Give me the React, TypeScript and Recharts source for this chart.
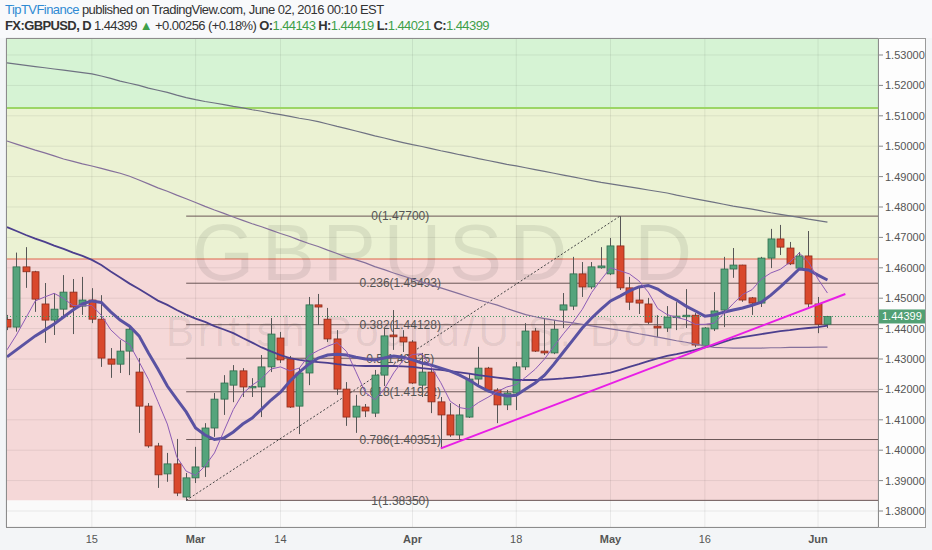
import React from 'react'
import {
  ComposedChart, Bar, Line, XAxis, YAxis, CartesianGrid,
  ReferenceArea, ReferenceLine, ReferenceDot, Customized,
} from 'recharts'

// GBPUSD daily, 2 Feb – 2 Jun 2016
const opens = [
  1.4430, 1.4405, 1.4603, 1.4587, 1.4481, 1.4428, 1.4464, 1.4520, 1.4474, 1.4494,
  1.4431, 1.4300, 1.4283, 1.4326, 1.4257, 1.4145, 1.4014, 1.3922, 1.3955, 1.3846,
  1.3909, 1.3945, 1.4073, 1.4168, 1.4214, 1.4261, 1.4205, 1.4208, 1.4274, 1.4369,
  1.4300, 1.4145, 1.4254, 1.4478, 1.4431, 1.4366, 1.4201, 1.4109, 1.4142, 1.4122,
  1.4247, 1.4379, 1.4372, 1.4356, 1.4214, 1.4257, 1.4159, 1.4116, 1.4050, 1.4109,
  1.4234, 1.4270, 1.4198, 1.4149, 1.4188, 1.4274, 1.4392, 1.4326, 1.4320, 1.4461,
  1.4474, 1.4580, 1.4537, 1.4600, 1.4580, 1.4672, 1.4534, 1.4494, 1.4481, 1.4408,
  1.4402, 1.4438, 1.4441, 1.4444, 1.4343, 1.4399, 1.4461, 1.4596, 1.4609, 1.4501,
  1.4484, 1.4632, 1.4695, 1.4665, 1.4599, 1.4639, 1.4481, 1.44143,
]
const highs = [
  1.4445, 1.4650, 1.4668, 1.4590, 1.4550, 1.4517, 1.4576, 1.4563, 1.4570, 1.4533,
  1.4510, 1.4336, 1.4362, 1.4405, 1.4303, 1.4155, 1.4024, 1.3991, 1.4037, 1.3925,
  1.4011, 1.4089, 1.4188, 1.4247, 1.4280, 1.4270, 1.4237, 1.4313, 1.4435, 1.4389,
  1.4310, 1.4270, 1.4504, 1.4514, 1.4468, 1.4395, 1.4224, 1.4182, 1.4152, 1.4264,
  1.4402, 1.4461, 1.4395, 1.4362, 1.4320, 1.4270, 1.4175, 1.4155, 1.4152, 1.4254,
  1.4340, 1.4274, 1.4204, 1.4198, 1.4290, 1.4418, 1.4402, 1.4435, 1.4428, 1.4517,
  1.4636, 1.4619, 1.4619, 1.4668, 1.4698, 1.4770, 1.4570, 1.4540, 1.4501, 1.4444,
  1.4474, 1.4487, 1.4530, 1.4451, 1.4405, 1.4520, 1.4636, 1.4665, 1.4610, 1.4504,
  1.4636, 1.4728, 1.4741, 1.4685, 1.4652, 1.4721, 1.4504, 1.44419,
]
const lows = [
  1.4395, 1.4390, 1.4534, 1.4455, 1.4353, 1.4379, 1.4435, 1.4382, 1.4445, 1.4418,
  1.4274, 1.4238, 1.4254, 1.4247, 1.4057, 1.4008, 1.3876, 1.3896, 1.3849, 1.3835,
  1.3892, 1.3912, 1.4044, 1.4116, 1.4158, 1.4175, 1.4175, 1.4109, 1.4257, 1.4287,
  1.4139, 1.4053, 1.4214, 1.4412, 1.4356, 1.4182, 1.4080, 1.4057, 1.4109, 1.4109,
  1.4211, 1.4330, 1.4323, 1.4218, 1.4175, 1.4122, 1.4007, 1.4044, 1.4034, 1.4106,
  1.4208, 1.4191, 1.4089, 1.4132, 1.4132, 1.4264, 1.4323, 1.4313, 1.4316, 1.4402,
  1.4461, 1.4504, 1.4530, 1.4597, 1.4576, 1.4527, 1.4461, 1.4448, 1.4415, 1.4372,
  1.4389, 1.4395, 1.4402, 1.4339, 1.4339, 1.4392, 1.4405, 1.4567, 1.4488, 1.4445,
  1.4471, 1.4599, 1.4642, 1.4609, 1.4593, 1.4471, 1.4385, 1.44021,
]
const closes = [
  1.4405, 1.4603, 1.4587, 1.4497, 1.4428, 1.4464, 1.4520, 1.4471, 1.4494, 1.4431,
  1.4303, 1.4283, 1.4326, 1.4398, 1.4145, 1.4014, 1.3919, 1.3955, 1.3859, 1.3909,
  1.3945, 1.4073, 1.4168, 1.4221, 1.4261, 1.4208, 1.4210, 1.4274, 1.4382, 1.4297,
  1.4142, 1.4254, 1.4478, 1.4471, 1.4366, 1.4201, 1.4109, 1.4145, 1.4129, 1.4247,
  1.4376, 1.4373, 1.4356, 1.4221, 1.4257, 1.4159, 1.4116, 1.4050, 1.4116, 1.4234,
  1.4270, 1.4198, 1.4149, 1.4188, 1.4274, 1.4392, 1.4326, 1.4320, 1.4398, 1.4478,
  1.4580, 1.4537, 1.4603, 1.4606, 1.4672, 1.4534, 1.4487, 1.4484, 1.4421, 1.4402,
  1.4438, 1.4441, 1.4444, 1.4346, 1.4402, 1.4458, 1.4596, 1.4609, 1.4494, 1.4484,
  1.4632, 1.4695, 1.4668, 1.4613, 1.4639, 1.4481, 1.44143, 1.44399,
]

// moving averages
const ma5 = [
  1.4330, 1.4379, 1.4435, 1.4491, 1.4504, 1.4516, 1.4499, 1.4476, 1.4475, 1.4476,
  1.4444, 1.4396, 1.4367, 1.4348, 1.4291, 1.4233, 1.4160, 1.4086, 1.3978, 1.3931,
  1.3917, 1.3948, 1.3991, 1.4063, 1.4134, 1.4186, 1.4214, 1.4235, 1.4267, 1.4274,
  1.4261, 1.4270, 1.4311, 1.4328, 1.4342, 1.4354, 1.4325, 1.4258, 1.4190, 1.4166,
  1.4201, 1.4254, 1.4296, 1.4315, 1.4317, 1.4273, 1.4222, 1.4161, 1.4140, 1.4135,
  1.4157, 1.4174, 1.4193, 1.4208, 1.4216, 1.4240, 1.4266, 1.4300, 1.4342, 1.4383,
  1.4420, 1.4463, 1.4519, 1.4561, 1.4600, 1.4590, 1.4580, 1.4557, 1.4520, 1.4466,
  1.4446, 1.4437, 1.4429, 1.4414, 1.4414, 1.4418, 1.4449, 1.4482, 1.4512, 1.4528,
  1.4563, 1.4583, 1.4595, 1.4618, 1.4649, 1.4619, 1.4563, 1.4517,
]
const ma10 = [
  1.4307, 1.4330, 1.4353, 1.4376, 1.4395, 1.4415, 1.4438, 1.4461, 1.4481, 1.4491,
  1.4486, 1.4455, 1.4428, 1.4408, 1.4376, 1.4320, 1.4267, 1.4211, 1.4168, 1.4126,
  1.4073, 1.4050, 1.4035, 1.4040, 1.4060, 1.4086, 1.4106, 1.4135, 1.4165, 1.4191,
  1.4227, 1.4257, 1.4283, 1.4303, 1.4313, 1.4316, 1.4313, 1.4306, 1.4300, 1.4297,
  1.4303, 1.4310, 1.4306, 1.4297, 1.4287, 1.4280, 1.4270, 1.4260, 1.4247, 1.4231,
  1.4211, 1.4195, 1.4185, 1.4178, 1.4181, 1.4201, 1.4221, 1.4247, 1.4283, 1.4323,
  1.4362, 1.4402, 1.4435, 1.4464, 1.4491, 1.4507, 1.4524, 1.4537, 1.4542, 1.4530,
  1.4510, 1.4494, 1.4474, 1.4458, 1.4441, 1.4445, 1.4454, 1.4461, 1.4468, 1.4477,
  1.4487, 1.4510, 1.4537, 1.4566, 1.4596, 1.4593, 1.4576, 1.4560,
]
const ma50 = [
  1.4734, 1.4721, 1.4708, 1.4696, 1.4685, 1.4673, 1.4662, 1.4650, 1.4639, 1.4626,
  1.4609, 1.4588, 1.4568, 1.4548, 1.4530, 1.4511, 1.4492, 1.4478, 1.4461, 1.4446,
  1.4433, 1.4422, 1.4408, 1.4397, 1.4385, 1.4369, 1.4354, 1.4338, 1.4325, 1.4313,
  1.4303, 1.4297, 1.4293, 1.4290, 1.4287, 1.4283, 1.4280, 1.4278, 1.4277, 1.4277,
  1.4277, 1.4277, 1.4276, 1.4274, 1.4270, 1.4267, 1.4264, 1.4260, 1.4256, 1.4252,
  1.4247, 1.4243, 1.4239, 1.4235, 1.4231, 1.4231, 1.4231, 1.4232, 1.4234, 1.4236,
  1.4239, 1.4242, 1.4246, 1.4250, 1.4255, 1.4264, 1.4274, 1.4283, 1.4293, 1.4302,
  1.4310, 1.4316, 1.4323, 1.4330, 1.4338, 1.4346, 1.4356, 1.4366, 1.4372, 1.4377,
  1.4382, 1.4387, 1.4392, 1.4395, 1.4399, 1.4402, 1.4405, 1.4410,
]
const ma100 = [
  1.5017, 1.5007, 1.4997, 1.4987, 1.4978, 1.4968, 1.4958, 1.4950, 1.4942, 1.4935,
  1.4927, 1.4919, 1.4911, 1.4901, 1.4889, 1.4876, 1.4863, 1.4852, 1.4839, 1.4827,
  1.4815, 1.4802, 1.4790, 1.4779, 1.4767, 1.4756, 1.4745, 1.4735, 1.4724, 1.4713,
  1.4703, 1.4691, 1.4680, 1.4670, 1.4658, 1.4647, 1.4635, 1.4626, 1.4616, 1.4604,
  1.4594, 1.4583, 1.4573, 1.4563, 1.4553, 1.4543, 1.4534, 1.4524, 1.4514, 1.4504,
  1.4494, 1.4486, 1.4477, 1.4466, 1.4456, 1.4446, 1.4439, 1.4433, 1.4428, 1.4423,
  1.4419, 1.4414, 1.4409, 1.4404, 1.4399, 1.4394, 1.4389, 1.4383, 1.4378, 1.4372,
  1.4366, 1.4360, 1.4355, 1.4349, 1.4343, 1.4338, 1.4337, 1.4336, 1.4336, 1.4336,
  1.4336, 1.4337, 1.4337, 1.4338, 1.4338, 1.4338, 1.4339, 1.4339,
]
const ma200 = [
  1.5274, 1.5270, 1.5266, 1.5262, 1.5258, 1.5254, 1.5250, 1.5246, 1.5242, 1.5238,
  1.5231, 1.5223, 1.5214, 1.5207, 1.5200, 1.5191, 1.5184, 1.5177, 1.5168, 1.5160,
  1.5153, 1.5147, 1.5142, 1.5137, 1.5131, 1.5126, 1.5120, 1.5115, 1.5109, 1.5104,
  1.5098, 1.5092, 1.5087, 1.5081, 1.5073, 1.5065, 1.5058, 1.5050, 1.5042, 1.5034,
  1.5027, 1.5019, 1.5012, 1.5005, 1.4999, 1.4992, 1.4985, 1.4979, 1.4972, 1.4966,
  1.4959, 1.4953, 1.4947, 1.4940, 1.4935, 1.4929, 1.4923, 1.4917, 1.4911, 1.4905,
  1.4899, 1.4893, 1.4887, 1.4881, 1.4876, 1.4871, 1.4866, 1.4861, 1.4856, 1.4851,
  1.4846, 1.4839, 1.4833, 1.4827, 1.4821, 1.4815, 1.4809, 1.4803, 1.4798, 1.4793,
  1.4787, 1.4781, 1.4776, 1.4771, 1.4766, 1.4760, 1.4755, 1.4750,
]

const dateTicks = [9, 20, 29, 43, 54, 64, 74, 86]
const dateLabels = ['15', 'Mar', '14', 'Apr', '18', 'May', '16', 'Jun']
const monthLabels = ['Mar', 'Apr', 'May', 'Jun']
const priceTicks = [
  1.38, 1.39, 1.40, 1.41, 1.42, 1.43, 1.44, 1.45, 1.46, 1.47, 1.48, 1.49, 1.50, 1.51, 1.52, 1.53,
]

// fibonacci retracement drawn from the 29 Feb low to the 3 May high
const fibRatios = ['0', '0.236', '0.382', '0.5', '0.618', '0.786', '1']
const fibPrices = [1.477, 1.45493, 1.44128, 1.43025, 1.41922, 1.40351, 1.3835]
const fibFrom = 19
const fibTo = 65
const fibLabelAt = 41.7

// support trendline and shaded zones
const trendFrom = { x: 46, y: 1.4006 }
const trendTo = { x: 88.9, y: 1.4514 }
const greenZoneLow = 1.51257
const redLine = 1.4629

const xDomain = [-0.106, 92.36]
const yDomain = [1.374737, 1.535592]

const rows = opens.map((o, i) => ({
  i, o, h: highs[i], l: lows[i], c: closes[i],
  range: [lows[i], highs[i]],
  ma5: ma5[i], ma10: ma10[i], ma50: ma50[i], ma100: ma100[i], ma200: ma200[i],
}))

const last = rows[rows.length - 1]
const prev = rows[rows.length - 2]
const change = last.c - prev.c

const UP = '#55a47c'
const UP_EDGE = '#2f6d4d'
const DOWN = '#d9482c'
const DOWN_EDGE = '#8c2c1c'
const WICK = '#575757'

function Candle(props: any) {
  const { x, y, width, height, payload } = props
  if (!payload || height == null) return null
  const { o, h, l, c } = payload
  const up = c >= o
  const k = h === l ? 0 : height / (h - l)
  const cx = Math.round(x + width / 2) + 0.5
  const top = y + (h - Math.max(o, c)) * k
  const bottom = y + (h - Math.min(o, c)) * k
  return (
    <g>
      <line x1={cx} x2={cx} y1={y} y2={y + height} stroke={WICK} strokeWidth={1} />
      <rect
        x={cx - 3.5}
        y={top}
        width={7}
        height={Math.max(1.5, bottom - top)}
        fill={up ? UP : DOWN}
        stroke={up ? UP_EDGE : DOWN_EDGE}
        strokeWidth={0.8}
      />
    </g>
  )
}

function DateTick(props: any) {
  const { x, y, payload } = props
  const idx = dateTicks.indexOf(payload.value)
  const label = dateLabels[idx] ?? ''
  const bold = monthLabels.includes(label)
  return (
    <text x={x} y={y + 8} textAnchor="middle" fontSize={11} fill="#555"
      fontWeight={bold ? 'bold' : 'normal'}
      fontFamily="'Liberation Sans Narrow', 'Liberation Sans', sans-serif">
      {label}
    </text>
  )
}

function PriceTag(props: any) {
  const vb = props.viewBox || {}
  const x = (vb.x ?? 0) + (vb.width ?? 0)
  const y = vb.y ?? 0
  return (
    <g>
      <rect x={x} y={y - 7} width={47} height={14} fill="#51a074" />
      <text x={x + 4} y={y + 4} fontSize={11} fill="#fff">{last.c.toFixed(5)}</text>
    </g>
  )
}

function Watermark() {
  return (
    <g fill="#000" fillOpacity={0.08} fontFamily="'Liberation Sans', sans-serif">
      <text x={192} y={280} fontSize={80} textLength={500} lengthAdjust="spacing">GBPUSD, D</text>
      <text x={166} y={346} fontSize={42} textLength={552} lengthAdjust="spacing">British Pound/U.S. Dollar</text>
    </g>
  )
}

const green = { color: '#3f9f4a' }

export default function App() {
  return (
    <div style={{
      position: 'absolute', left: 0, top: 0, width: 932, height: 550,
      background: '#f3f5f7', fontFamily: "'Liberation Sans', Arial, sans-serif", overflow: 'hidden',
    }}>
      <div style={{ position: 'absolute', left: 0, top: 0, width: 932, height: 38, background: '#f8f9fb' }} />
      <div style={{ position: 'absolute', left: 878, top: 38, width: 48, height: 490, background: '#fdfdfd' }} />
      <div style={{ position: 'absolute', left: 6, top: 38, width: 872, height: 490, background: '#fafafa' }} />

      <div style={{ position: 'absolute', left: 5, top: 2, fontSize: 13, letterSpacing: -0.55, color: '#333', whiteSpace: 'nowrap' }}>
        <span style={{ color: '#2f8ad3' }}>TipTVFinance</span> published on TradingView.com, June 02, 2016 00:10 EST
      </div>
      <div style={{ position: 'absolute', left: 5, top: 18, fontSize: 13, letterSpacing: -0.6, color: '#333', whiteSpace: 'nowrap' }}>
        <b>FX:GBPUSD, D</b> {last.c.toFixed(5)} <span style={green}>▲</span> {change >= 0 ? '+' : ''}{change.toFixed(5)} (+{(change / prev.c * 100).toFixed(2)}%)
        {' '}<b>O:</b><span style={green}>{last.o.toFixed(5)}</span>
        {' '}<b>H:</b><span style={green}>{last.h.toFixed(5)}</span>
        {' '}<b>L:</b><span style={green}>{last.l.toFixed(5)}</span>
        {' '}<b>C:</b><span style={green}>{last.c.toFixed(5)}</span>
      </div>

      <div style={{ position: 'absolute', left: 0, top: 0 }}>
        <ComposedChart width={932} height={550} data={rows} margin={{ top: 38, right: 7, bottom: 0, left: 6 }}>
          <XAxis type="number" dataKey="i" domain={xDomain} allowDataOverflow ticks={dateTicks}
            interval={0} height={23} axisLine={false} tickLine={false} tick={<DateTick />} />
          <YAxis orientation="right" domain={yDomain} allowDataOverflow ticks={priceTicks} width={47}
            axisLine={false} tickSize={5} tickMargin={2} tickLine={{ stroke: '#888' }}
            tick={{ fill: '#555', fontSize: 11 }} tickFormatter={(v: number) => v.toFixed(5)} />

          <ReferenceArea y1={greenZoneLow} y2={yDomain[1]} fill="#d6f3d4" fillOpacity={1} stroke="none" zIndex={-150} />
          <ReferenceArea y1={redLine} y2={greenZoneLow} fill="#ebf2d3" fillOpacity={1} stroke="none" zIndex={-150} />
          <ReferenceArea y1={fibPrices[6]} y2={redLine} fill="#f5d8d8" fillOpacity={1} stroke="none" zIndex={-150} />

          <CartesianGrid stroke="#000" strokeOpacity={0.07} />

          <Customized component={Watermark} />

          <ReferenceLine y={greenZoneLow} stroke="#9cd565" strokeWidth={2} zIndex={-90} />
          <ReferenceLine y={redLine} stroke="#e0674c" strokeWidth={1.2} zIndex={-90} />

          {fibPrices.map((p, k) => (
            <ReferenceLine key={'fib' + k} segment={[{ x: fibFrom, y: p }, { x: xDomain[1], y: p }]}
              stroke="#6a5656" strokeWidth={1} ifOverflow="hidden" zIndex={-80} />
          ))}
          {fibPrices.map((p, k) => (
            <ReferenceDot key={'fibl' + k} x={fibLabelAt} y={p} r={0} fill="none" stroke="none" zIndex={-70}
              label={{ value: `${fibRatios[k]}(${p.toFixed(5)})`, position: 'center', fill: '#555', fontSize: 12, zIndex: -70 }} />
          ))}
          <ReferenceLine segment={[{ x: fibFrom, y: fibPrices[6] }, { x: fibTo, y: fibPrices[0] }]}
            stroke="#444" strokeDasharray="2 2" strokeWidth={1} zIndex={-60} />

          <ReferenceLine y={last.c} stroke="#3f9a63" strokeDasharray="1 2" strokeWidth={1} label={<PriceTag />} />

          <Bar dataKey="range" barSize={7} shape={Candle} isAnimationActive={false} />

          <Line dataKey="ma200" type="linear" stroke="#6f7282" strokeWidth={1.2} dot={false} isAnimationActive={false} />
          <Line dataKey="ma100" type="linear" stroke="#85709b" strokeWidth={1.2} dot={false} isAnimationActive={false} />
          <Line dataKey="ma50" type="linear" stroke="#4c3f8e" strokeWidth={1.8} dot={false} isAnimationActive={false} />
          <Line dataKey="ma10" type="linear" stroke="#5a52a2" strokeWidth={3} dot={false} isAnimationActive={false} />
          <Line dataKey="ma5" type="linear" stroke="#8d5cb6" strokeWidth={1} dot={false} isAnimationActive={false} />

          <ReferenceLine segment={[trendFrom, trendTo]} stroke="#e81ee6" strokeWidth={2} ifOverflow="visible" />
        </ComposedChart>
      </div>

      <div style={{
        position: 'absolute', left: 6, top: 38, width: 873, height: 490,
        border: '1px solid #8c8c8c', boxSizing: 'border-box', pointerEvents: 'none',
      }} />
      <div style={{
        position: 'absolute', left: 878, top: 38, width: 48, height: 490,
        borderRight: '1px solid #9a9a9a', borderTop: '1px solid #9a9a9a', borderBottom: '1px solid #9a9a9a',
        boxSizing: 'border-box', pointerEvents: 'none',
      }} />
    </div>
  )
}
